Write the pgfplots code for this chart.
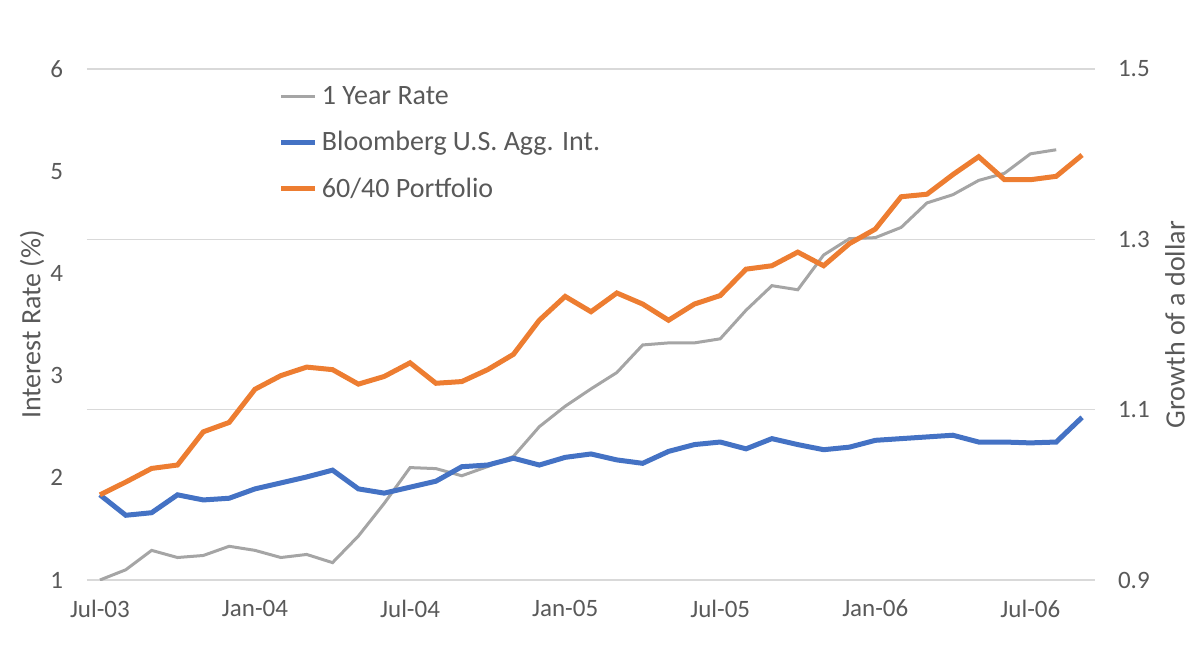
\documentclass[border=0pt]{standalone}
\usepackage{fontspec}
\setmainfont{Carlito}
\usepackage{pgfplots}
\pgfplotsset{compat=1.18}
\definecolor{txt}{HTML}{595959}
\definecolor{gridc}{HTML}{D9D9D9}
\definecolor{cgray}{HTML}{A5A5A5}
\definecolor{cblue}{HTML}{4472C4}
\definecolor{corange}{HTML}{ED7D31}

\pgfplotstableread{
i rate
0 1.00
1 1.10
2 1.29
3 1.22
4 1.24
5 1.33
6 1.29
7 1.22
8 1.25
9 1.17
10 1.43
11 1.75
12 2.10
13 2.09
14 2.02
15 2.11
16 2.21
17 2.50
18 2.70
19 2.87
20 3.03
21 3.30
22 3.32
23 3.32
24 3.36
25 3.64
26 3.88
27 3.84
28 4.18
29 4.34
30 4.35
31 4.45
32 4.69
33 4.77
34 4.91
35 4.98
36 5.17
37 5.21
}\ratetable

\pgfplotstableread{
i agg port
0 1.000 1.000
1 0.976 1.015
2 0.979 1.031
3 1.000 1.035
4 0.994 1.074
5 0.996 1.085
6 1.007 1.124
7 1.014 1.140
8 1.021 1.150
9 1.029 1.147
10 1.007 1.130
11 1.002 1.139
12 1.009 1.155
13 1.016 1.131
14 1.033 1.133
15 1.035 1.147
16 1.043 1.165
17 1.035 1.205
18 1.044 1.233
19 1.048 1.215
20 1.041 1.237
21 1.037 1.224
22 1.051 1.205
23 1.059 1.224
24 1.062 1.234
25 1.054 1.265
26 1.066 1.269
27 1.059 1.285
28 1.053 1.269
29 1.056 1.295
30 1.064 1.312
31 1.066 1.350
32 1.068 1.353
33 1.070 1.376
34 1.062 1.397
35 1.062 1.370
36 1.061 1.370
37 1.062 1.374
38 1.091 1.399
}\growthtable

\begin{document}
\begin{tikzpicture}
\useasboundingbox (-43.5pt,-32pt) rectangle (556.5pt,290pt);
\pgfplotsset{
  base/.style={
    width=504pt, height=255.5pt, scale only axis,
    xmin=-0.5, xmax=38.5,
    axis line style={draw=none},
    major tick length=0pt,
    tick label style={font=\fontsize{12.5}{14}\selectfont, text=txt},
    /pgf/number format/assume math mode=true,
  },
}
\begin{axis}[base,
  ymin=1, ymax=6, ytick={1,2,3,4,5,6},
  xtick={0,6,12,18,24,30,36},
  xticklabels={Jul-03,Jan-04,Jul-04,Jan-05,Jul-05,Jan-06,Jul-06},
  xticklabel style={yshift=-6.5pt},
  yticklabel style={xshift=-8.5pt},
  extra y ticks={1,2.666667,4.333333,6},
  extra y tick labels={},
  extra y tick style={ymajorgrids=true},
  grid style={gridc, line width=0.75pt},
  ylabel={Interest Rate (\%)},
  every axis y label/.style={at={(rel axis cs:0,0.5)}, anchor=center, xshift=-27.5pt, rotate=90,
    font=\fontsize{14}{16}\selectfont, text=txt},
]
\addplot[cgray, line width=1.5pt] table[x=i, y=rate] {\ratetable};
\end{axis}
\begin{axis}[base,
  axis y line*=right,
  hide x axis,
  ymin=0.9, ymax=1.5,
  ytick={0.9,1.1,1.3,1.5},
  yticklabels={0.9,1.1,1.3,1.5},
  yticklabel style={xshift=8pt},
  ylabel={Growth of a dollar},
  every axis y label/.style={at={(rel axis cs:1,0.5)}, anchor=center, xshift=40pt, rotate=90,
    font=\fontsize{14}{16}\selectfont, text=txt},
  legend style={at={(rel axis cs:0.19,0.975)}, anchor=north west, draw=none, fill=none,
    font=\fontsize{14}{16}\selectfont, text=txt, row sep=8pt, inner sep=0pt},
  legend cell align=left,
  legend image code/.code={\draw[#1] (0pt,0pt) -- (17pt,0pt);},
]
\addlegendimage{cgray, line width=1.5pt}
\addlegendentry{1 Year Rate}
\addplot[cblue, line width=2.5pt] table[x=i, y=agg] {\growthtable};
\addlegendentry{Bloomberg U.S. Agg. Int.}
\addplot[corange, line width=2.5pt] table[x=i, y=port] {\growthtable};
\addlegendentry{60/40 Portfolio}
\end{axis}
\end{tikzpicture}
\end{document}
